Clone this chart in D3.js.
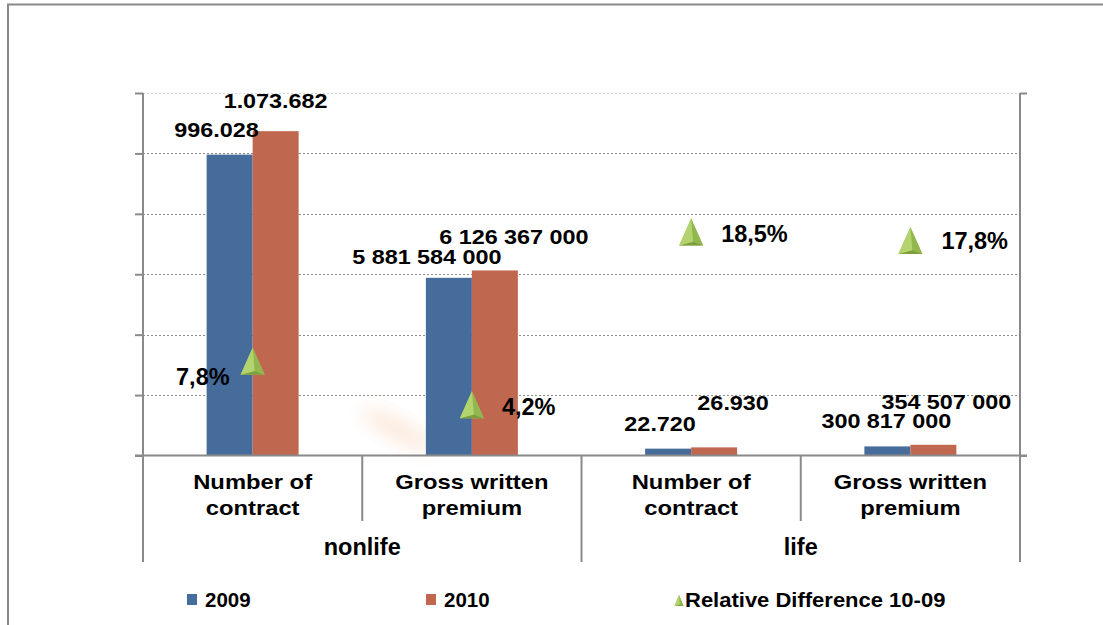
<!DOCTYPE html>
<html>
<head>
<meta charset="utf-8">
<script src="https://cdn.jsdelivr.net/npm/d3@7"></script>
<style>
  body { margin: 0; background: #fff; }
  text { font-family: "Liberation Sans", Arial, sans-serif; font-weight: bold; fill: #000; }
</style>
</head>
<body>
<script>
// =================== Data ======================
var groups = ["nonlife", "life"];
var categories = ["Number of contract", "Gross written premium", "Number of contract", "Gross written premium"];
var categoryGroup = ["nonlife", "nonlife", "life", "life"];
var categoryLines = [["Number of", "contract"], ["Gross written", "premium"], ["Number of", "contract"], ["Gross written", "premium"]];
var series = ["2009", "2010"];
var values2009 = [996028, 5881584000, 22720, 300817000];
var values2010 = [1073682, 6126367000, 26930, 354507000];
// premiums were plotted in units of 10 000 on the same axis as the contract counts
var plotUnit = [1, 10000, 1, 10000];
var labels2009 = ["996.028", "5 881 584 000", "22.720", "300 817 000"];
var labels2010 = ["1.073.682", "6 126 367 000", "26.930", "354 507 000"];
var relDiff = [7.8, 4.2, 18.5, 17.8];
var relLabels = ["7,8%", "4,2%", "18,5%", "17,8%"];
var yTicks = [0, 200000, 400000, 600000, 800000, 1000000, 1200000];

// label nudges (layout only)
var off2009 = [[-13, -18], [-22, -14], [-8, -18], [-1, -18]];
var off2010 = [[0, -23], [19, -26], [19, -37], [13, -36]];
var pctOff = [[-23, "end", 24], [30, "start", 10], [30, "start", 10], [31, "start", 9]];

var colors = {"2009": "#456c9b", "2010": "#bf684f"};

// =================== Chart ======================
var W = 1103, H = 625;
var plot = {left: 143, right: 1020, top: 93, bottom: 455.5};

var svg = d3.select("body").append("svg")
    .attr("width", W)
    .attr("height", H);

var defs = svg.append("defs");
var blur = defs.append("filter").attr("id", "blur")
    .attr("x", "-50%").attr("y", "-50%").attr("width", "200%").attr("height", "200%");
blur.append("feGaussianBlur").attr("stdDeviation", 9);

// outer frame
svg.append("rect")
    .attr("x", 8).attr("y", 4.5)
    .attr("width", 1110).attr("height", 640)
    .attr("fill", "none")
    .attr("stroke", "#8a8a8a")
    .attr("stroke-width", 2);

// scales
var x = d3.scaleBand()
    .domain(d3.range(categories.length))
    .range([plot.left, plot.right])
    .padding(0);

var barW = 46;
var xs = d3.scaleBand()
    .domain(series)
    .range([-barW, barW]);

var y = d3.scaleLinear()
    .domain([0, 1200000])
    .range([plot.bottom, plot.top]);

var y2 = d3.scaleLinear()
    .domain([0, 30])
    .range([plot.bottom, plot.top]);

// faint smudge in the background
svg.append("ellipse")
    .attr("cx", 398).attr("cy", 430)
    .attr("rx", 40).attr("ry", 11)
    .attr("transform", "rotate(28,398,430)")
    .attr("fill", "#f7d2b5")
    .attr("opacity", 0.45)
    .attr("filter", "url(#blur)");

// gridlines
svg.append("g")
    .selectAll("line")
    .data(yTicks.slice(1))
    .enter()
    .append("line")
    .attr("x1", plot.left).attr("x2", plot.right)
    .attr("y1", function(d) { return Math.round(y(d)) + 0.5; })
    .attr("y2", function(d) { return Math.round(y(d)) + 0.5; })
    .attr("stroke", function(d) { return d === 1200000 ? "#d6d6d6" : "#8c8c8c"; })
    .attr("stroke-width", 1)
    .attr("stroke-dasharray", "2,2");

// bars
var rows = categories.map(function(c, i) {
  return {i: i, v: [values2009[i] / plotUnit[i], values2010[i] / plotUnit[i]]};
});

var barG = svg.append("g");
rows.forEach(function(r) {
  series.forEach(function(s, k) {
    barG.append("rect")
      .attr("x", x(r.i) + x.bandwidth() / 2 + xs(s))
      .attr("width", xs.bandwidth())
      .attr("y", y(r.v[k]))
      .attr("height", plot.bottom - y(r.v[k]))
      .attr("fill", colors[s]);
  });
});

// left axis (no labels)
var axL = svg.append("g")
    .attr("transform", "translate(" + plot.left + ",0)")
    .call(d3.axisLeft(y).tickValues(yTicks).tickSize(8).tickFormat(""));
axL.selectAll("path").remove();
axL.selectAll("line").attr("stroke", "#8a8a8a").attr("stroke-width", 2);

// right axis (secondary, 0-30%)
var axR = svg.append("g")
    .attr("transform", "translate(" + plot.right + ",0)")
    .call(d3.axisRight(y2).tickValues([0, 30]).tickSize(7).tickFormat(""));
axR.selectAll("path").remove();
axR.selectAll("line").attr("stroke", "#8a8a8a").attr("stroke-width", 2);

var axisCol = "#8a8a8a";
// vertical axis lines, extended down through the category area
svg.append("line")
    .attr("x1", plot.left).attr("x2", plot.left)
    .attr("y1", plot.top).attr("y2", 562)
    .attr("stroke", axisCol).attr("stroke-width", 2);
svg.append("line")
    .attr("x1", plot.right).attr("x2", plot.right)
    .attr("y1", plot.top).attr("y2", 562)
    .attr("stroke", axisCol).attr("stroke-width", 2);

// category axis
svg.append("line")
    .attr("x1", plot.left - 8).attr("x2", plot.right + 7)
    .attr("y1", plot.bottom).attr("y2", plot.bottom)
    .attr("stroke", axisCol).attr("stroke-width", 2);

// separators between categories and groups
d3.range(1, categories.length).forEach(function(i) {
  var isGroup = categoryGroup[i] !== categoryGroup[i - 1];
  svg.append("line")
    .attr("x1", x(i)).attr("x2", x(i))
    .attr("y1", plot.bottom).attr("y2", isGroup ? 562 : 521)
    .attr("stroke", axisCol).attr("stroke-width", 2);
});

// category labels
categories.forEach(function(c, i) {
  var cx = x(i) + x.bandwidth() / 2;
  categoryLines[i].forEach(function(line, j) {
    svg.append("text")
      .attr("transform", "translate(" + cx + "," + (489 + j * 26) + ") scale(1.16,1)")
      .attr("text-anchor", "middle")
      .style("font-size", "20.5px")
      .text(line);
  });
});

// group labels
groups.forEach(function(g) {
  var idx = d3.range(categories.length).filter(function(i) { return categoryGroup[i] === g; });
  var x0 = x(idx[0]), x1 = x(idx[idx.length - 1]) + x.bandwidth();
  svg.append("text")
    .attr("x", (x0 + x1) / 2)
    .attr("y", 555)
    .attr("text-anchor", "middle")
    .style("font-size", "23.5px")
    .text(g);
});

// value labels
rows.forEach(function(r) {
  var cx = x(r.i) + x.bandwidth() / 2;
  [[labels2009, off2009, "2009", 0], [labels2010, off2010, "2010", 1]].forEach(function(L) {
    var bx = cx + xs(L[2]) + xs.bandwidth() / 2;
    var by = y(r.v[L[3]]);
    svg.append("text")
      .attr("transform", "translate(" + (bx + L[1][r.i][0]) + "," + (by + L[1][r.i][1]) + ") scale(1.2,1)")
      .attr("text-anchor", "middle")
      .style("font-size", "19.5px")
      .text(L[0][r.i]);
  });
});

// relative difference markers (3D-ish green triangles)
function tri(g, cx, cy, w, h) {
  var ax = cx, ay = cy - h / 2, lx = cx - w / 2, rx = cx + w / 2, by = cy + h / 2;
  var ix = cx + w * 0.08, iy = by - h * 0.14;
  g.append("path")
    .attr("d", "M" + ax + "," + ay + "L" + rx + "," + by + "L" + lx + "," + by + "Z")
    .attr("fill", "#a3c65f");
  g.append("path")
    .attr("d", "M" + ax + "," + ay + "L" + rx + "," + by + "L" + ix + "," + iy + "Z")
    .attr("fill", "#93b74f");
  g.append("path")
    .attr("d", "M" + lx + "," + by + "L" + ix + "," + iy + "L" + rx + "," + by + "Z")
    .attr("fill", "#7f9f3e");
  g.append("path")
    .attr("d", "M" + ax + "," + ay + "L" + ix + "," + iy + "L" + lx + "," + by + "Z")
    .attr("fill", "#b2d36e");
}

var triG = svg.append("g");
relDiff.forEach(function(v, i) {
  var cx = x(i) + x.bandwidth() / 2;
  var cy = y2(v);
  tri(triG, cx, cy, 24, 27);
  svg.append("text")
    .attr("x", cx + pctOff[i][0])
    .attr("y", cy + pctOff[i][2])
    .attr("text-anchor", pctOff[i][1])
    .style("font-size", "23.5px")
    .text(relLabels[i]);
});

// =================== Legend ======================
var leg = svg.append("g");
[["2009", 187], ["2010", 426]].forEach(function(d) {
  leg.append("rect")
    .attr("x", d[1]).attr("y", 594)
    .attr("width", 10).attr("height", 11)
    .attr("fill", colors[d[0]]);
  leg.append("text")
    .attr("x", d[1] + 18).attr("y", 606.5)
    .style("font-size", "20.5px")
    .text(d[0]);
});
tri(leg, 679, 600.5, 9, 11);
leg.append("text")
  .attr("transform", "translate(685,606.5) scale(1.1,1)")
  .style("font-size", "20px")
  .text("Relative Difference 10-09");
</script>
</body>
</html>
